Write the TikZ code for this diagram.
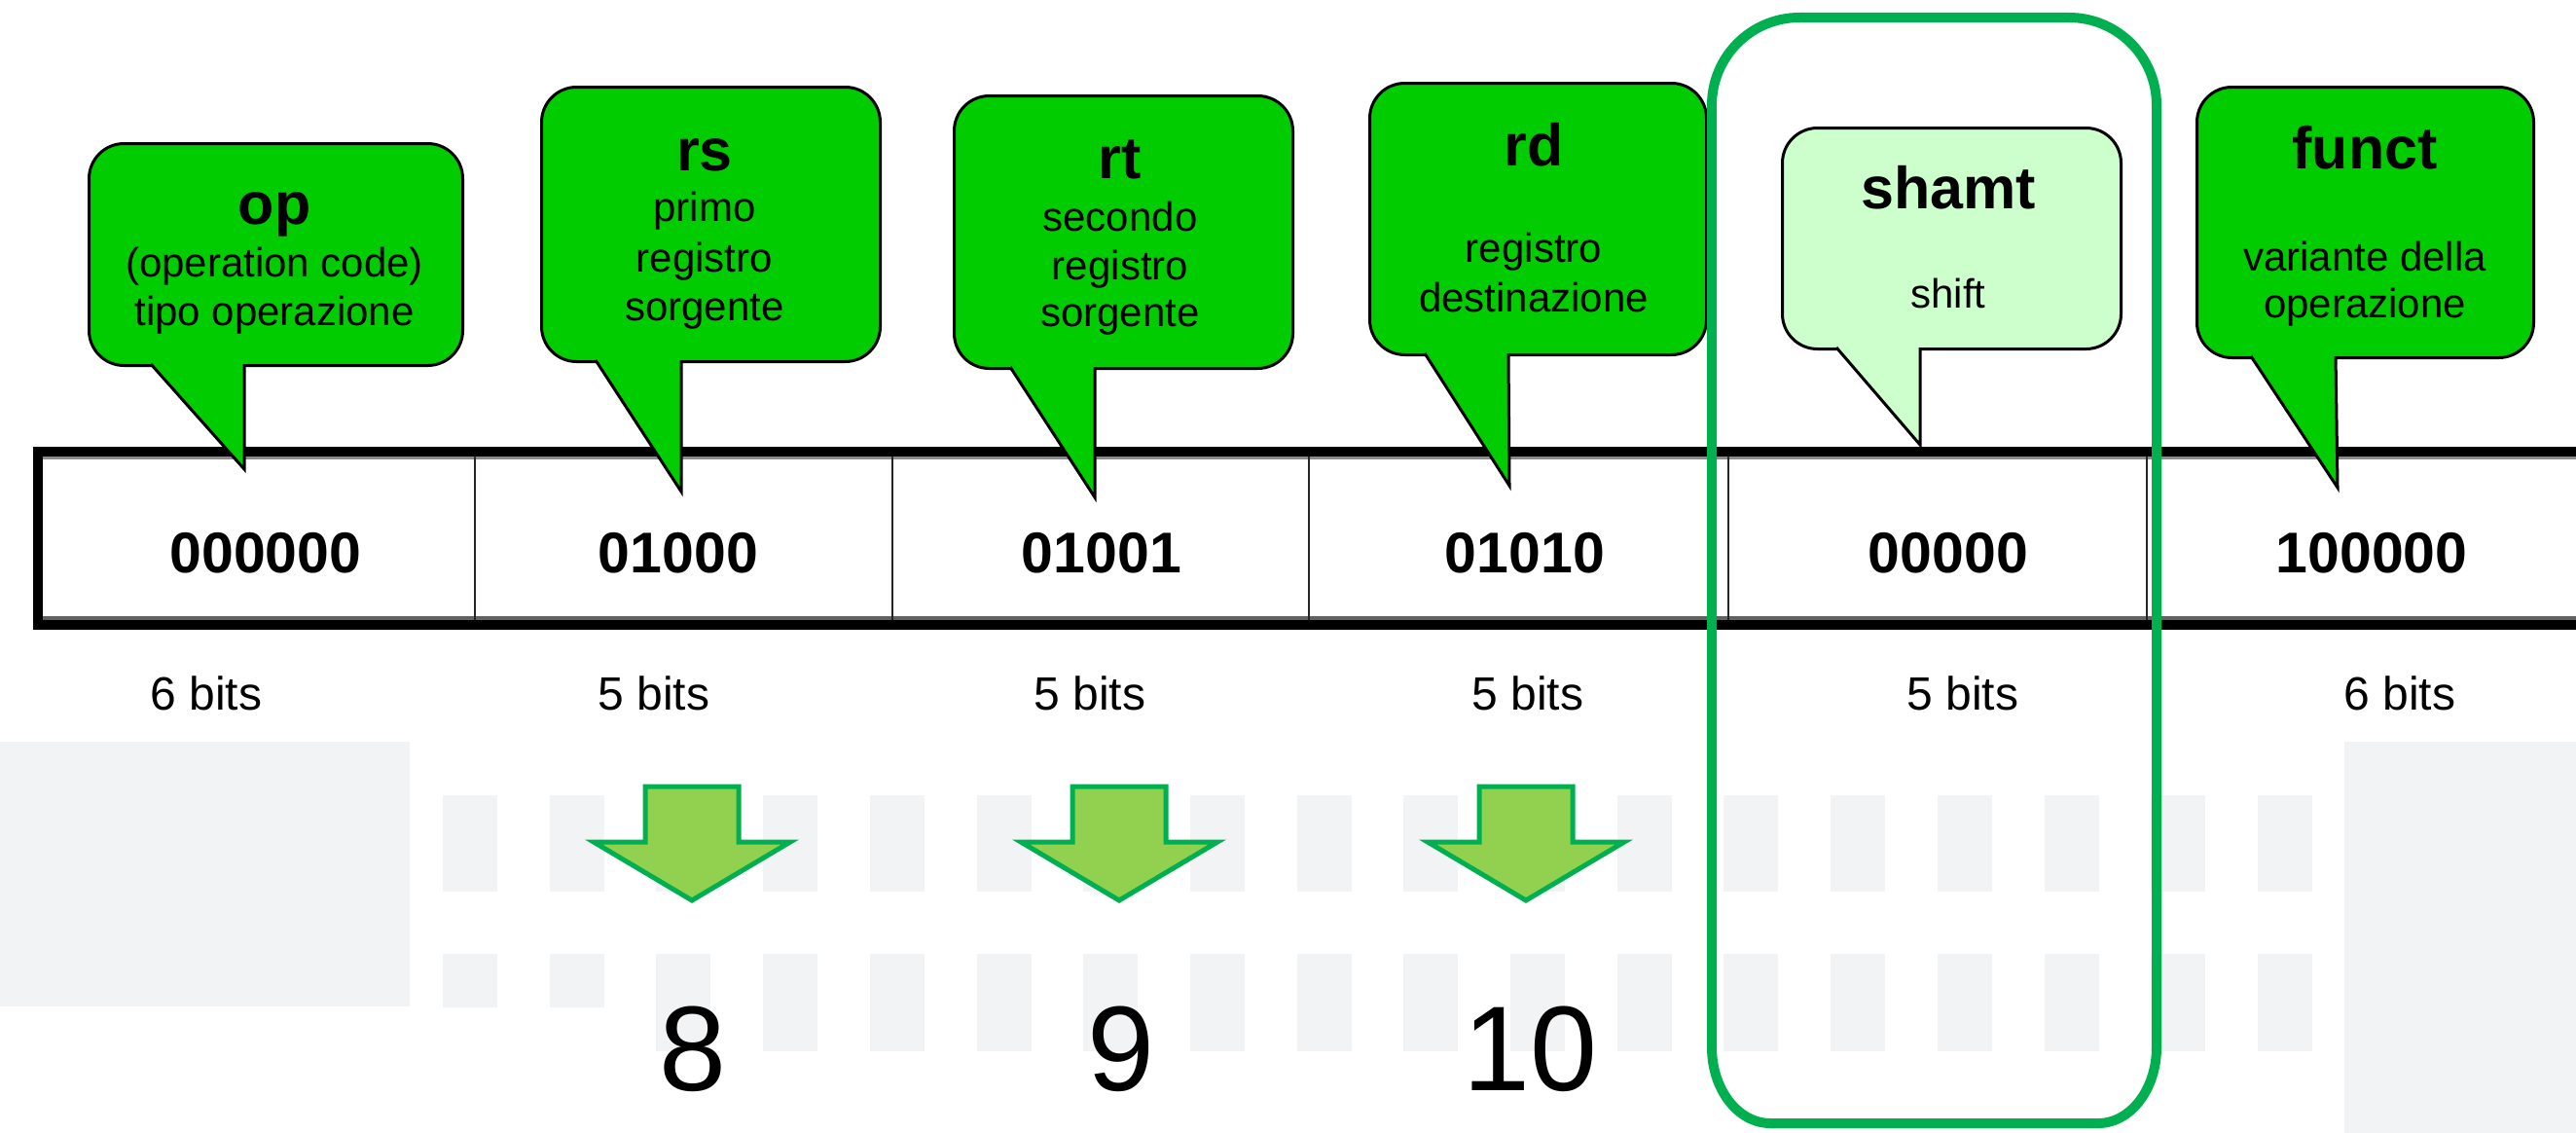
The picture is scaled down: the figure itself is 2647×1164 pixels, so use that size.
\documentclass[tikz,border=0pt]{standalone}
\usepackage{fontspec}
\setmainfont{Liberation Sans}
\definecolor{cgreen}{RGB}{0,204,0}
\definecolor{clight}{RGB}{204,255,204}
\definecolor{hgreen}{RGB}{0,176,80}
\definecolor{afill}{RGB}{146,208,80}
\definecolor{bggray}{RGB}{242,243,245}
\definecolor{lgray}{RGB}{140,140,140}
\colorlet{cf}{cgreen}
\newcommand{\mycallout}[9]{%
  \node[callout, fill=cf, minimum width={#4pt-#2pt}, minimum height={#5pt-#3pt}, anchor=north west] (#1) at (#2,#3) {};
  \coordinate (#1tip) at (#8,#9);
  \fill[cf] (#6,#5-5) -- (#6,#5) -- (#1tip) -- (#7,#5) -- (#7,#5-5) -- cycle;
  \draw[line width=3pt, line join=miter] (#6,#5) -- (#1tip) -- (#7,#5);
}
\begin{document}
\begin{tikzpicture}[x=1pt,y=-1pt,
  callout/.style={draw=black, line width=3pt, rounded corners=36pt, inner sep=0pt},
  head/.style={font={\fontsize{61}{61}\selectfont\bfseries}, anchor=base, inner sep=0pt},
  desc/.style={font={\fontsize{42}{50}\selectfont}, anchor=base, inner sep=0pt},
  cellnum/.style={font={\fontsize{59}{59}\selectfont\bfseries}, anchor=base, inner sep=0pt},
  bitslbl/.style={font={\fontsize{48}{48}\selectfont}, anchor=base, inner sep=0pt},
  bignum/.style={font={\fontsize{124}{124}\selectfont}, anchor=base, inner sep=0pt},
  bgbar/.style={fill=bggray},
  downarrow/.style={draw=hgreen, fill=afill, line width=5pt, line join=miter},
  highlight/.style={draw=hgreen, line width=10pt}
]
\useasboundingbox (0,0) rectangle (2647,1164);
\clip (0,0) rectangle (2647,1164);
\fill[white] (0,0) rectangle (2647,1164);

% background pattern
\fill[bgbar] (0,762) rectangle (421,1034);
\fill[bgbar] (2409,762) rectangle (2647,1164);
\foreach \k in {0,...,17}{
  \pgfmathsetmacro{\bx}{455+\k*109.7}
  \fill[bgbar] (\bx,817) rectangle (\bx+56,916);
}
\foreach \k in {0,1}{
  \pgfmathsetmacro{\bx}{455+\k*109.7}
  \fill[bgbar] (\bx,980) rectangle (\bx+56,1035);
}
\foreach \k in {2,...,17}{
  \pgfmathsetmacro{\bx}{455+\k*109.7}
  \fill[bgbar] (\bx,980) rectangle (\bx+56,1080);
}

% table
\draw[lgray, line width=3.5pt] (44,470.5) -- (2700,470.5);
\draw[lgray!70!black, line width=3.5pt] (44,635) -- (2700,635);
\foreach \dx in {488,917,1345,1776,2206}{
  \draw[black!85, line width=2.5pt] (\dx,468) -- (\dx,637);
}
\draw[black, line width=10pt, line join=miter] (2700,464) -- (39,464) -- (39,641.5) -- (2700,641.5);

\node[cellnum] (c1) at (273,588) {000000};
\node[cellnum] (c2) at (697,588) {01000};
\node[cellnum] (c3) at (1132,588) {01001};
\node[cellnum] (c4) at (1567,588) {01010};
\node[cellnum] (c5) at (2002,588) {00000};
\node[cellnum] (c6) at (2437,588) {100000};

\node[bitslbl] (b1) at (212,729) {6 bits};
\node[bitslbl] (b2) at (672,729) {5 bits};
\node[bitslbl] (b3) at (1120,729) {5 bits};
\node[bitslbl] (b4) at (1570,729) {5 bits};
\node[bitslbl] (b5) at (2017,729) {5 bits};
\node[bitslbl] (b6) at (2466,729) {6 bits};

% callouts
\mycallout{op}{90}{146}{474}{374}{155}{251}{251}{482}
\mycallout{rs}{555}{88}{903}{370}{612}{700}{700}{505}
\mycallout{rt}{979}{97}{1327}{377}{1038}{1125}{1125}{511}
\mycallout{rd}{1406}{84}{1752}{363}{1464}{1550}{1551}{499}
\colorlet{cf}{clight}
\mycallout{sh}{1830}{130}{2178}{357}{1887}{1973}{1973}{457}
\colorlet{cf}{cgreen}
\mycallout{fu}{2256}{88}{2602}{366}{2313}{2400}{2402}{501}

\node[head] (ophead) at (282,230) {op};
\node[desc] (opd1) at (282,284) {(operation code)};
\node[desc] (opd2) at (282,334) {tipo operazione};

\node[head] (rshead) at (724,175) {rs};
\node[desc] (rsd1) at (724,227) {primo};
\node[desc] (rsd2) at (724,279) {registro};
\node[desc] (rsd3) at (724,329) {sorgente};

\node[head] (rthead) at (1151,183) {rt};
\node[desc] (rtd1) at (1151,237) {secondo};
\node[desc] (rtd2) at (1151,287) {registro};
\node[desc] (rtd3) at (1151,335) {sorgente};

\node[head] (rdhead) at (1576,170) {rd};
\node[desc] (rdd1) at (1576,269) {registro};
\node[desc] (rdd2) at (1576,320) {destinazione};

\node[head] (shhead) at (2002,214) {shamt};
\node[desc] (shd1) at (2002,316) {shift};

\node[head] (fuhead) at (2430,173) {funct};
\node[desc] (fud1) at (2430,278) {variante della};
\node[desc] (fud2) at (2430,326) {operazione};

% highlight of shamt
\draw[highlight] (1759,108)
  .. controls (1759,58.3) and (1799.3,18) .. (1849,18)
  -- (2126,18)
  .. controls (2175.7,18) and (2216,58.3) .. (2216,108)
  -- (2216,1076)
  .. controls (2216,1119.1) and (2189.1,1154) .. (2156,1154)
  -- (1819,1154)
  .. controls (1785.9,1154) and (1759,1119.1) .. (1759,1076)
  -- cycle;

% arrows
\foreach \c in {711,1150,1568}{
  \draw[downarrow] (\c-48,808) -- (\c+48,808) -- (\c+48,865) -- (\c+101,865)
    -- (\c,925) -- (\c-101,865) -- (\c-48,865) -- cycle;
}

\node[bignum] (n8) at (712,1120) {8};
\node[bignum] (n9) at (1152,1120) {9};
\node[bignum] (n10) at (1572,1120) {10};
\end{tikzpicture}
\end{document}
